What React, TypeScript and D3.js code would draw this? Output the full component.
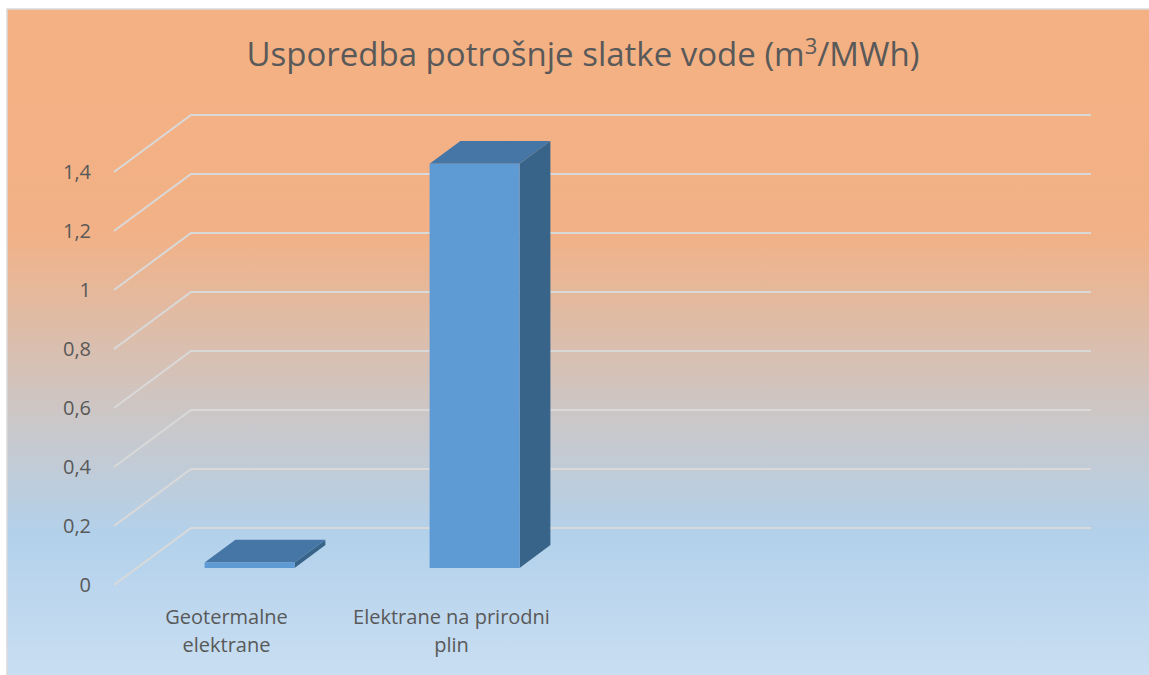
import React from "react";
import * as d3 from "d3";

const categories = ["Geotermalne elektrane", "Elektrane na prirodni plin"];
const values = [0.018, 1.37];
const yTicks = [0, 0.2, 0.4, 0.6, 0.8, 1, 1.2, 1.4];
const slotCount = 4;

const W = 1149;
const H = 675;
const DX = 77; // depth offset of the back wall
const DY = 57;
const FONT = "'Open Sans', 'DejaVu Sans', sans-serif";

const measure = (() => {
  let ctx: CanvasRenderingContext2D | null = null;
  return (s: string, font: string) => {
    if (!ctx) ctx = document.createElement("canvas").getContext("2d");
    if (!ctx) return s.length * 10;
    ctx.font = font;
    return ctx.measureText(s).width;
  };
})();

function wrap(label: string, maxW: number, font: string) {
  const words = label.split(" ");
  const lines: string[] = [];
  let cur = "";
  words.forEach((w) => {
    const t = cur ? cur + " " + w : w;
    if (cur && measure(t, font) > maxW) {
      lines.push(cur);
      cur = w;
    } else cur = t;
  });
  if (cur) lines.push(cur);
  return lines;
}

function Chart() {
  const x = d3
    .scaleBand<number>()
    .domain(d3.range(slotCount))
    .range([114, 114 + 900])
    .paddingInner(0.6)
    .paddingOuter(0.3);
  const y = d3.scaleLinear().domain([0, 1.4]).range([585, 172]);

  // project a point at depth f (0 = front, 1 = back wall)
  const px = (xv: number, f: number) => xv + f * DX;
  const py = (yv: number, f: number) => yv - f * DY;

  const fmt = (v: number) => String(v).replace(".", ",");
  const labelFont = `20px 'Open Sans'`;
  const xEnd = 114 + 900 + DX;

  return (
    <svg width={W} height={H} style={{ position: "absolute", left: 0, top: 0 }}>
      <defs>
        <linearGradient id="bg" x1="0" y1="0" x2="0" y2="1">
          <stop offset="0" stopColor="#F4B183" />
          <stop offset="0.33" stopColor="#F2B186" />
          <stop offset="0.62" stopColor="#C9C8CB" />
          <stop offset="0.78" stopColor="#B3D1EB" />
          <stop offset="1" stopColor="#CADFF2" />
        </linearGradient>
      </defs>
      <rect x={7} y={9} width={W + 5} height={H} fill="url(#bg)" stroke="#D9D9D9" strokeWidth={1.5} />

      <text x={583} y={66} textAnchor="middle" fontFamily={FONT} fontSize={33} fill="#595959">
        Usporedba potrošnje slatke vode (m
        <tspan fontSize={22} dy={-12}>3</tspan>
        <tspan dy={12}>/MWh)</tspan>
      </text>

      {yTicks.map((t) => (
        <g key={t}>
          <polyline
            points={`${px(114, 0)},${py(y(t), 0)} ${px(114, 1)},${py(y(t), 1)} ${xEnd},${py(y(t), 1)}`}
            fill="none"
            stroke="#D9D9D9"
            strokeWidth={2}
          />
          <text
            x={91}
            y={y(t) + 7}
            textAnchor="end"
            fontFamily={FONT}
            fontSize={20}
            fill="#595959"
          >
            {fmt(t)}
          </text>
        </g>
      ))}

      {values.map((v, i) => {
        const x0 = x(i) as number;
        const bw = x.bandwidth();
        const f0 = 0.3;
        const f1 = 0.7;
        const yb = y(0);
        const yt = y(v);
        const front = `${px(x0, f0)},${py(yt, f0)} ${px(x0 + bw, f0)},${py(yt, f0)} ${px(x0 + bw, f0)},${py(yb, f0)} ${px(x0, f0)},${py(yb, f0)}`;
        const top = `${px(x0, f0)},${py(yt, f0)} ${px(x0, f1)},${py(yt, f1)} ${px(x0 + bw, f1)},${py(yt, f1)} ${px(x0 + bw, f0)},${py(yt, f0)}`;
        const side = `${px(x0 + bw, f0)},${py(yt, f0)} ${px(x0 + bw, f1)},${py(yt, f1)} ${px(x0 + bw, f1)},${py(yb, f1)} ${px(x0 + bw, f0)},${py(yb, f0)}`;
        return (
          <g key={i}>
            <polygon points={side} fill="#386489" />
            <polygon points={top} fill="#4676A6" />
            <polygon points={front} fill="#5E9BD4" />
          </g>
        );
      })}

      {categories.map((c, i) => {
        const cx = (x(i) as number) + x.bandwidth() / 2;
        const lines = wrap(c, 202, labelFont);
        return (
          <text key={c} textAnchor="middle" fontFamily={FONT} fontSize={20} fill="#595959">
            {lines.map((l, j) => (
              <tspan key={j} x={cx} y={624 + j * 28}>
                {l}
              </tspan>
            ))}
          </text>
        );
      })}
    </svg>
  );
}

export default function App() {
  return <Chart />;
}
